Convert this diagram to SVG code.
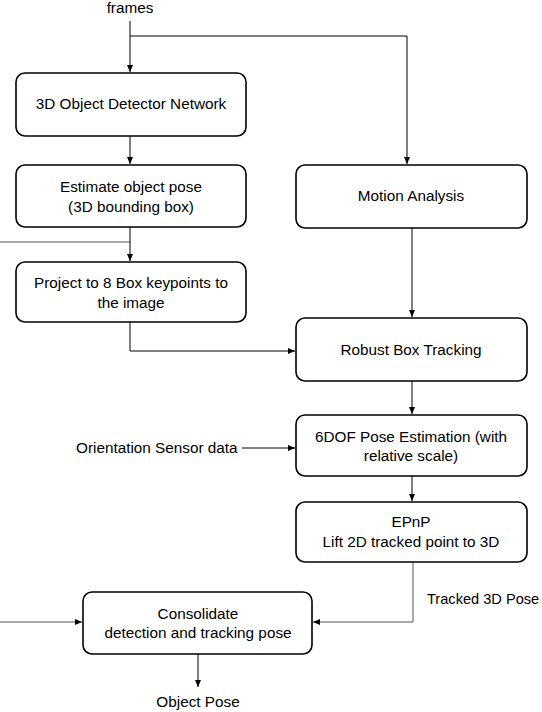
<svg xmlns="http://www.w3.org/2000/svg" width="542" height="712" viewBox="0 0 542 712">
<style>
.box{fill:#fff;stroke:#000;stroke-width:1.6}
.t{font-family:"Liberation Sans",Arial,sans-serif;font-size:15.3px;fill:#000;text-anchor:middle}
.l{font-family:"Liberation Sans",Arial,sans-serif;font-size:15.3px;fill:#000}
.c{fill:none;stroke:#000;stroke-width:1}
.g{fill:none;stroke:#555;stroke-width:1}
</style>
<defs>
<marker id="ah" markerUnits="userSpaceOnUse" markerWidth="8" markerHeight="7" refX="7" refY="3" orient="auto">
<path d="M0,0 L7,3 L0,6 z" fill="#000"/>
</marker>
</defs>
<rect width="542" height="712" fill="#fff"/>
<g id="connectors">
<path class="c" d="M130,21 V72" marker-end="url(#ah)"/>
<path class="c" d="M130,36 H407 V164" marker-end="url(#ah)"/>
<path class="c" d="M130,136 V164" marker-end="url(#ah)"/>
<path class="g" d="M0,242 H130"/>
<path class="c" d="M130,227 V261" marker-end="url(#ah)"/>
<path class="c" d="M130,322 V351 H295" marker-end="url(#ah)"/>
<path class="c" d="M412,228 V317" marker-end="url(#ah)"/>
<path class="c" d="M412,381 V414" marker-end="url(#ah)"/>
<path class="c" d="M242,448 H295" marker-end="url(#ah)"/>
<path class="c" d="M412,476 V501" marker-end="url(#ah)"/>
<path class="g" d="M413,562 V622 H313" marker-end="url(#ah)"/>
<path class="g" d="M0,622 H82" marker-end="url(#ah)"/>
<path class="c" d="M198,654 V687" marker-end="url(#ah)"/>
</g>
<g id="frames"><text class="t" x="130" y="13">frames</text></g>
<g id="detector">
<rect class="box" x="16" y="73" width="230" height="63" rx="9"/>
<text class="t" x="131" y="109">3D Object Detector Network</text>
</g>
<g id="estimate">
<rect class="box" x="16" y="165" width="230" height="62" rx="9"/>
<text class="t" x="131" y="192">Estimate object pose</text>
<text class="t" x="131" y="212">(3D bounding box)</text>
</g>
<g id="project">
<rect class="box" x="16" y="262" width="230" height="60" rx="9"/>
<text class="t" x="131" y="288">Project to 8 Box keypoints to</text>
<text class="t" x="131" y="308">the image</text>
</g>
<g id="motion">
<rect class="box" x="296" y="165" width="231" height="63" rx="9"/>
<text class="t" x="411" y="201">Motion Analysis</text>
</g>
<g id="robust">
<rect class="box" x="296" y="318" width="231" height="63" rx="9"/>
<text class="t" x="411" y="355">Robust Box Tracking</text>
</g>
<g id="sensor"><text class="l" x="76" y="453">Orientation Sensor data</text></g>
<g id="pose6dof">
<rect class="box" x="296" y="415" width="231" height="61" rx="9"/>
<text class="t" x="411" y="442">6DOF Pose Estimation (with</text>
<text class="t" x="411" y="461">relative scale)</text>
</g>
<g id="epnp">
<rect class="box" x="296" y="502" width="231" height="60" rx="9"/>
<text class="t" x="411" y="527">EPnP</text>
<text class="t" x="411" y="547">Lift 2D tracked point to 3D</text>
</g>
<g id="tracked"><text class="l" x="427" y="604" style="font-size:14.6px">Tracked 3D Pose</text></g>
<g id="consolidate">
<rect class="box" x="83" y="592" width="229" height="62" rx="9"/>
<text class="t" x="198" y="619">Consolidate</text>
<text class="t" x="198" y="638">detection and tracking pose</text>
</g>
<g id="objectpose"><text class="t" x="198" y="707">Object Pose</text></g>
</svg>
